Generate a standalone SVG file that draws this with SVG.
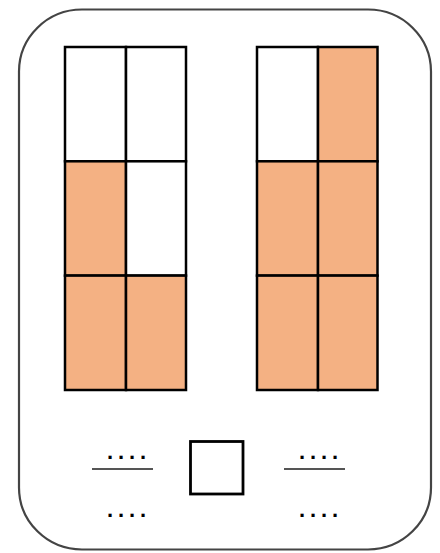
<svg xmlns="http://www.w3.org/2000/svg" width="440" height="553" viewBox="0 0 440 553">
<style>
.frame{fill:#fff;stroke:#444;stroke-width:2.2}
.cell{stroke:#000;stroke-width:2.5}
.w{fill:#fff}
.o{fill:#F4B183}
.bar{stroke:#555;stroke-width:1.8}
.dots{font-family:"Liberation Sans",Arial,sans-serif;font-size:22px;font-weight:bold;letter-spacing:4.9px;fill:#000}
</style>
<rect width="440" height="553" fill="#fff"/>
<rect class="frame" x="19" y="9.5" width="412" height="540" rx="63" ry="62"/>
<g id="grid-left">
<rect class="cell w" x="65" y="47" width="61" height="114.3"/>
<rect class="cell w" x="126" y="47" width="60" height="114.3"/>
<rect class="cell o" x="65" y="161.3" width="61" height="114.3"/>
<rect class="cell w" x="126" y="161.3" width="60" height="114.3"/>
<rect class="cell o" x="65" y="275.6" width="61" height="114.4"/>
<rect class="cell o" x="126" y="275.6" width="60" height="114.4"/>
</g>
<g id="grid-right">
<rect class="cell w" x="257" y="47" width="61" height="114.3"/>
<rect class="cell o" x="318" y="47" width="59.5" height="114.3"/>
<rect class="cell o" x="257" y="161.3" width="61" height="114.3"/>
<rect class="cell o" x="318" y="161.3" width="59.5" height="114.3"/>
<rect class="cell o" x="257" y="275.6" width="61" height="114.4"/>
<rect class="cell o" x="318" y="275.6" width="59.5" height="114.4"/>
</g>
<g id="fraction-left">
<text class="dots" x="107" y="458.8">....</text>
<line class="bar" x1="92" y1="469" x2="153" y2="469"/>
<text class="dots" x="107" y="516.8">....</text>
</g>
<g id="compare-box">
<rect x="190.5" y="441.5" width="52.5" height="52.5" fill="#fff" stroke="#000" stroke-width="2.8"/>
</g>
<g id="fraction-right">
<text class="dots" x="299" y="458.8">....</text>
<line class="bar" x1="284" y1="469" x2="345" y2="469"/>
<text class="dots" x="299" y="516.8">....</text>
</g>
<g id="connectors"/>
</svg>
